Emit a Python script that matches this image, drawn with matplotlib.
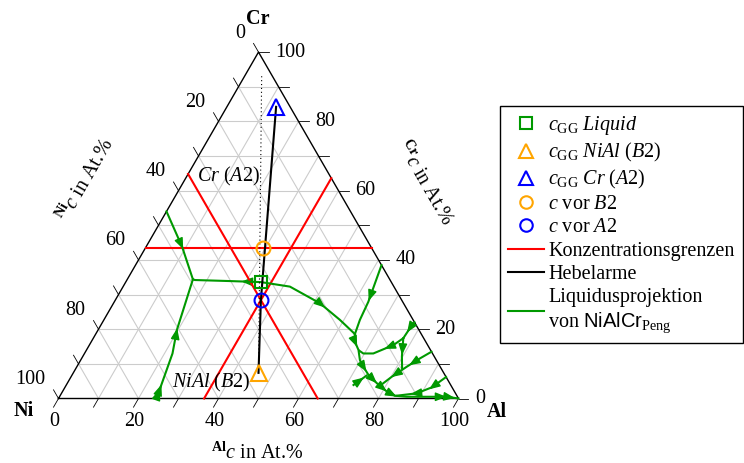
import numpy as np
import matplotlib
matplotlib.use("Agg")
import matplotlib.pyplot as plt
from matplotlib.lines import Line2D

plt.rcParams["font.family"] = "Liberation Serif"
plt.rcParams["mathtext.fontset"] = "custom"
plt.rcParams["mathtext.rm"] = "Liberation Serif"
plt.rcParams["mathtext.it"] = "Liberation Serif:italic"
plt.rcParams["mathtext.bf"] = "Liberation Serif:bold"
plt.rcParams["mathtext.sf"] = "Liberation Sans"

# ----------------------------
# data (Al, Cr in At.%)
# ----------------------------
ticks = [0, 10, 20, 30, 40, 50, 60, 70, 80, 90, 100]
tick_labels = [0, 20, 40, 60, 80, 100]

# concentration limits
ni_limit = 35.2
al_limit = 36.4
cr_limit = 43.5

# special points
liquid_gg = (33.8, 33.6)
b2_gg = (46.3, 7.4)
a2_gg = (12.3, 84.2)
c_vor_b2 = (29.5, 43.5)
c_vor_a2 = (36.4, 28.4)
dotted_end = (3.9, 93.8)

# liquidus projection (Al, Cr)
liq1_al = [0.0, 9.0, 16.4]
liq1_cr = [54.0, 43.8, 34.4]
liq2_al = [24.5, 22.0, 19.7, 16.4]
liq2_cr = [0.0, 13.0, 19.8, 34.4]
liq3_al = [16.4, 17.0, 25.9, 33.8, 41.7, 51.6, 59.0, 64.8]
liq3_cr = [34.4, 34.2, 33.9, 33.6, 32.3, 27.5, 22.7, 18.6]
liq4_al = [61.5, 63.5, 64.0, 64.8]
liq4_cr = [38.5, 27.9, 22.7, 18.6]
liq5_al = [64.8, 65.9, 68.0, 69.8, 71.6, 74.1, 77.4, 81.1, 83.7, 86.8, 91.0, 96.8, 100.0]
liq5_cr = [18.6, 16.4, 14.0, 11.1, 9.2, 6.8, 4.4, 2.0, 0.8, 0.5, 0.5, 0.5, 0.0]
liq6_al = [77.5, 76.0, 74.1, 72.2, 69.7, 68.3]
liq6_cr = [17.4, 15.4, 14.2, 13.0, 13.0, 13.8]
liq7_al = [78.0, 77.7, 77.5]
liq7_cr = [22.0, 20.3, 17.4]
liq8_al = [77.5, 79.8, 81.5]
liq8_cr = [17.4, 12.1, 8.8]
liq9_al = [86.5, 84.6, 82.5, 80.2, 78.6]
liq9_cr = [13.5, 11.6, 9.2, 6.3, 3.8]
liq10_al = [93.8, 91.7, 88.8, 84.1]
liq10_cr = [6.2, 3.2, 1.5, 0.8]
liq11_al = [71.8, 73.7]
liq11_cr = [3.9, 6.6]

liquidus = [
    (liq1_al, liq1_cr, [(0.5, False)]),
    (liq2_al, liq2_cr, [(0.04, False), (0.08, False), (0.55, False)]),
    (liq3_al, liq3_cr, [(0.3, True), (0.75, False)]),
    (liq4_al, liq4_cr, [(0.45, False)]),
    (liq5_al, liq5_cr, [(0.06, False), (0.25, False), (0.36, False), (0.45, False),
                        (0.53, False), (0.88, False), (0.94, False)]),
    (liq6_al, liq6_cr, [(0.35, False)]),
    (liq7_al, liq7_cr, [(0.4, False)]),
    (liq8_al, liq8_cr, [(0.4, False)]),
    (liq9_al, liq9_cr, [(0.35, False), (0.7, False)]),
    (liq10_al, liq10_cr, [(0.3, False), (0.65, False)]),
    (liq11_al, liq11_cr, [(0.5, False)]),
]

green = "#009900"
orange = "#ffa500"
H = np.sqrt(3) / 2


def to_xy(al, cr):
    al = np.asarray(al, dtype=float) / 100
    cr = np.asarray(cr, dtype=float) / 100
    return al + cr / 2, cr * H


def arrow_at(ax, al, cr, t, rev):
    x, y = to_xy(al, cr)
    seg = np.hypot(np.diff(x), np.diff(y))
    cum = np.concatenate([[0], np.cumsum(seg)])
    s = t * cum[-1]
    i = min(np.searchsorted(cum, s) - 1, len(seg) - 1)
    i = max(i, 0)
    f = (s - cum[i]) / seg[i]
    px = x[i] + f * (x[i + 1] - x[i])
    py = y[i] + f * (y[i + 1] - y[i])
    d = np.array([x[i + 1] - x[i], y[i + 1] - y[i]]) / seg[i]
    if rev:
        d = -d
    ax.annotate("", xy=(px + d[0] * 0.012, py + d[1] * 0.012),
                xytext=(px - d[0] * 0.002, py - d[1] * 0.002),
                arrowprops=dict(arrowstyle="-|>,head_length=0.55,head_width=0.22",
                                color=green, lw=1, mutation_scale=12,
                                shrinkA=0, shrinkB=0))


fig = plt.figure(figsize=(7.44, 4.63), dpi=100)
ax = fig.add_axes([0, 0, 1, 1])
ax.set_xlim(-58.5 / 400, (744 - 58.5) / 400)
ax.set_ylim(-64.5 / 400, 398.5 / 400)
ax.axis("off")

# grid
for v in ticks[1:-1]:
    ax.plot(*to_xy([0, 100 - v], [v, v]), color="#cccccc", lw=0.8, zorder=1)
    ax.plot(*to_xy([v, v], [0, 100 - v]), color="#cccccc", lw=0.8, zorder=1)
    ax.plot(*to_xy([0, 100 - v], [100 - v, 0]), color="#cccccc", lw=0.8, zorder=1)

# frame
ax.plot(*to_xy([0, 100, 0, 0], [0, 0, 100, 0]), color="black", lw=1, zorder=3)

# ticks and labels
tl = 10 / 400
for v in ticks:
    # bottom (Al)
    x, y = to_xy(v, 0)
    ax.plot([x, x - 0.5 * tl], [y, y - H * tl], color="black", lw=0.6)
    # right (Cr)
    x, y = to_xy(100 - v, v)
    ax.plot([x, x + tl], [y, y], color="black", lw=0.6)
    # left (Ni)
    x, y = to_xy(0, 100 - v)
    ax.plot([x, x - 0.5 * tl], [y, y + H * tl], color="black", lw=0.6)
for v in tick_labels:
    x, y = to_xy(v, 0)
    ax.text(x - 4 / 400, y - 23 / 400, str(v), ha="center", va="center", fontsize=14.5)
    x, y = to_xy(100 - v, v)
    ax.text(x + 17 / 400, y, str(v), ha="left", va="center", fontsize=14.5)
    x, y = to_xy(0, 100 - v)
    ax.text(x - 13 / 400, y + 19 / 400, str(v), ha="right", va="center", fontsize=14.5)

# vertex labels and axis titles
ax.text(0.4988, 0.948, "Cr", ha="center", va="center", fontsize=14.5, fontweight="bold")
ax.text(-0.086, -0.031, "Ni", ha="center", va="center", fontsize=14.5, fontweight="bold")
ax.text(1.096, -0.034, "Al", ha="center", va="center", fontsize=14.5, fontweight="bold")
ax.text(0.496, -0.136, r"$^{\mathbf{Al}}c$ in At.%", ha="center", va="center", fontsize=14.5)
ax.text(0.069, 0.546, r"$^{\mathbf{Ni}}c$ in At.%", ha="center", va="center",
        fontsize=14.5, rotation=60, rotation_mode="anchor")
ax.text(0.914, 0.539, r"$^{\mathbf{Cr}}c$ in At.%", ha="center", va="center",
        fontsize=14.5, rotation=-60, rotation_mode="anchor")

# concentration limits
ax.plot(*to_xy([0, 100 - ni_limit], [100 - ni_limit, 0]), color="red", lw=1.5, zorder=4)
ax.plot(*to_xy([al_limit, al_limit], [0, 100 - al_limit]), color="red", lw=1.5, zorder=4)
ax.plot(*to_xy([0, 100 - cr_limit], [cr_limit, cr_limit]), color="red", lw=1.5, zorder=4)

# liquidus projection
for al, cr, arrows in liquidus:
    ax.plot(*to_xy(al, cr), color=green, lw=1.5, zorder=5)
    for t, rev in arrows:
        arrow_at(ax, al, cr, t, rev)

# dotted line and lever arms
ax.plot(*to_xy([b2_gg[0], dotted_end[0]], [b2_gg[1], dotted_end[1]]),
        color="black", lw=0.8, ls=(0, (1, 2.5)), zorder=5)
ax.plot(*to_xy([b2_gg[0], c_vor_a2[0], a2_gg[0]], [b2_gg[1], c_vor_a2[1], a2_gg[1]]),
        color="black", lw=1.5, zorder=6)

# markers
mk = dict(mfc="none", mew=1.5, ls="none", zorder=7)
ax.plot(*to_xy(*liquid_gg), marker="s", ms=9, mec=green, **mk)
ax.plot(*to_xy(*b2_gg), marker="^", ms=12, mec=orange, **mk)
ax.plot(*to_xy(*a2_gg), marker="^", ms=12, mec="blue", **mk)
ax.plot(*to_xy(*c_vor_b2), marker="o", ms=10, mec=orange, **mk)
ax.plot(*to_xy(*c_vor_a2), marker="o", ms=10, mec="blue", **mk)

# phase labels
ax.text(0.346, 0.554, r"$Cr\ (A2)$", ha="left", va="center", fontsize=14.5, zorder=8)
ax.text(0.284, 0.039, r"$NiAl\ (B2)$", ha="left", va="center", fontsize=14.5, zorder=8)

# legend
handles = [
    Line2D([], [], marker="s", ms=8, mec=green, mfc="none", mew=1.5, ls="none"),
    Line2D([], [], marker="^", ms=10, mec=orange, mfc="none", mew=1.5, ls="none"),
    Line2D([], [], marker="^", ms=10, mec="blue", mfc="none", mew=1.5, ls="none"),
    Line2D([], [], marker="o", ms=9, mec=orange, mfc="none", mew=1.5, ls="none"),
    Line2D([], [], marker="o", ms=9, mec="blue", mfc="none", mew=1.5, ls="none"),
    Line2D([], [], color="red", lw=1.5),
    Line2D([], [], color="black", lw=1.5),
    Line2D([], [], color=green, lw=1.5),
]
labels = [
    r"$c_{\mathrm{GG}}\ Liquid$",
    r"$c_{\mathrm{GG}}\ NiAl\ (B2)$",
    r"$c_{\mathrm{GG}}\ Cr\ (A2)$",
    r"$c$ vor $B2$",
    r"$c$ vor $A2$",
    "Konzentrationsgrenzen",
    "Hebelarme",
    "Liquidusprojektion\nvon $\\mathsf{NiAlCr}_{\\mathrm{Peng}}$",
]
fig.legend(handles, labels, loc="upper left", bbox_to_anchor=(500 / 744, 1 - 106 / 463),
           fontsize=14.5, frameon=True, fancybox=False, edgecolor="black",
           framealpha=1, borderaxespad=0, borderpad=0.4, handlelength=1.8,
           handletextpad=0.2, labelspacing=0.2)

fig.savefig("out.png", dpi=100)
